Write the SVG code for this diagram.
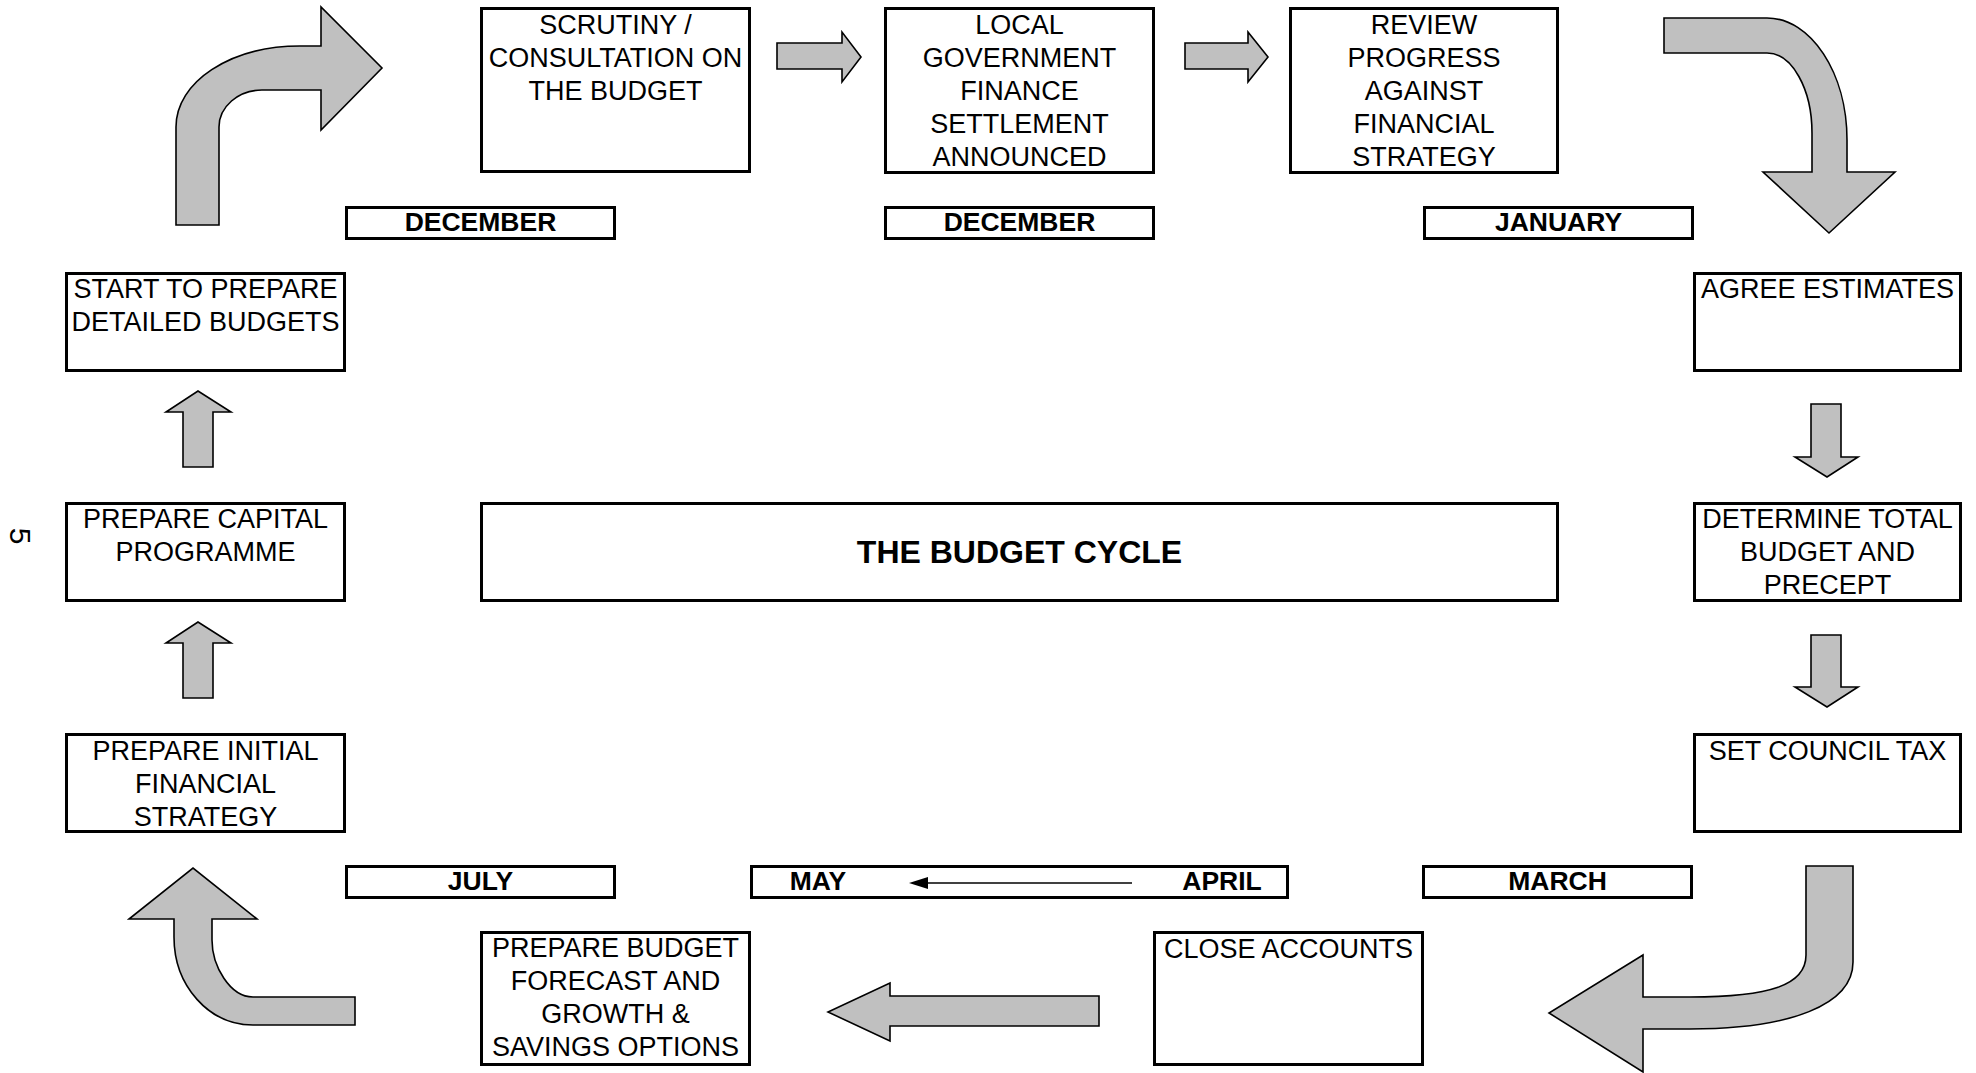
<svg xmlns="http://www.w3.org/2000/svg" width="1976" height="1073" viewBox="0 0 1976 1073">
<style>
.bg{fill:#ffffff}
.box{fill:#ffffff;stroke:#000000;stroke-width:3}
.t{font-family:"Liberation Sans",Arial,sans-serif;font-size:27px;fill:#000000;text-anchor:middle}
.m{font-family:"Liberation Sans",Arial,sans-serif;font-size:26.5px;font-weight:bold;fill:#000000;text-anchor:middle}
.title{font-family:"Liberation Sans",Arial,sans-serif;font-size:32px;font-weight:bold;fill:#000000;text-anchor:middle}
.arr{fill:#c0c0c0;stroke:#000000;stroke-width:1.6;stroke-linejoin:miter}
</style>
<rect class="bg" x="0" y="0" width="1976" height="1073"/>

<g id="connectors">
  <path class="arr" d="M176,225 L176,127 C176,82 230,46 300,46 L321,46 L321,7 L382,68 L321,130 L321,90 L262,90 C238,90 219,107 219,127 L219,225 Z"/>
  <path class="arr" d="M777,43 L842,43 L842,32 L861,57 L842,82 L842,69 L777,69 Z"/>
  <path class="arr" d="M1185,43 L1248,43 L1248,32 L1268,57 L1248,82 L1248,69 L1185,69 Z"/>
  <path class="arr" d="M1664,18 L1767,18 C1811,18 1847,73 1847,140 L1847,172 L1895,172 L1829,233 L1763,172 L1812,172 L1812,133 C1812,89 1792,53 1767,53 L1664,53 Z"/>
  <path class="arr" d="M1811,404 L1841,404 L1841,457 L1858,457 L1827,477 L1795,457 L1811,457 Z"/>
  <path class="arr" d="M1811,635 L1841,635 L1841,687 L1858,687 L1827,707 L1795,687 L1811,687 Z"/>
  <path class="arr" d="M1806,866 L1853,866 L1853,962 C1853,1005 1790,1029 1690,1029 L1643,1029 L1643,1072 L1549,1013 L1643,955 L1643,997 L1690,997 C1770,997 1806,985 1806,955 Z"/>
  <path class="arr" d="M1099,996 L890,996 L890,983 L828,1012 L890,1041 L890,1026 L1099,1026 Z"/>
  <path class="arr" d="M355,997 L253,997 C230,997 212,966 212,940 L212,919 L257,919 L193,868 L129,919 L174,919 L174,937 C174,986 209,1025 253,1025 L355,1025 Z"/>
  <path class="arr" d="M183,698 L183,643 L166,643 L198,622 L231,643 L213,643 L213,698 Z"/>
  <path class="arr" d="M183,467 L183,412 L166,412 L198,391 L231,412 L213,412 L213,467 Z"/>
</g>

<g id="scrutiny">
  <rect class="box" x="481.5" y="8.5" width="268" height="163"/>
  <text class="t" x="615.5" y="34">SCRUTINY /</text>
  <text class="t" x="615.5" y="67">CONSULTATION ON</text>
  <text class="t" x="615.5" y="100">THE BUDGET</text>
</g>
<g id="local-gov">
  <rect class="box" x="885.5" y="8.5" width="268" height="164"/>
  <text class="t" x="1019.5" y="34">LOCAL</text>
  <text class="t" x="1019.5" y="67">GOVERNMENT</text>
  <text class="t" x="1019.5" y="100">FINANCE</text>
  <text class="t" x="1019.5" y="133">SETTLEMENT</text>
  <text class="t" x="1019.5" y="166">ANNOUNCED</text>
</g>
<g id="review">
  <rect class="box" x="1290.5" y="8.5" width="267" height="164"/>
  <text class="t" x="1424" y="34">REVIEW</text>
  <text class="t" x="1424" y="67">PROGRESS</text>
  <text class="t" x="1424" y="100">AGAINST</text>
  <text class="t" x="1424" y="133">FINANCIAL</text>
  <text class="t" x="1424" y="166">STRATEGY</text>
</g>

<g id="month-dec1">
  <rect class="box" x="346.5" y="207.5" width="268" height="31"/>
  <text class="m" x="480.5" y="231">DECEMBER</text>
</g>
<g id="month-dec2">
  <rect class="box" x="885.5" y="207.5" width="268" height="31"/>
  <text class="m" x="1019.5" y="231">DECEMBER</text>
</g>
<g id="month-jan">
  <rect class="box" x="1424.5" y="207.5" width="268" height="31"/>
  <text class="m" x="1558.5" y="231">JANUARY</text>
</g>

<g id="start-detailed">
  <rect class="box" x="66.5" y="273.5" width="278" height="97"/>
  <text class="t" x="205.5" y="298">START TO PREPARE</text>
  <text class="t" x="205.5" y="331">DETAILED BUDGETS</text>
</g>
<g id="agree-estimates">
  <rect class="box" x="1694.5" y="273.5" width="266" height="97"/>
  <text class="t" x="1827.5" y="298">AGREE ESTIMATES</text>
</g>

<g id="capital">
  <rect class="box" x="66.5" y="503.5" width="278" height="97"/>
  <text class="t" x="205.5" y="528">PREPARE CAPITAL</text>
  <text class="t" x="205.5" y="561">PROGRAMME</text>
</g>
<g id="budget-cycle">
  <rect class="box" x="481.5" y="503.5" width="1076" height="97"/>
  <text class="title" x="1019.5" y="563">THE BUDGET CYCLE</text>
</g>
<g id="determine">
  <rect class="box" x="1694.5" y="503.5" width="266" height="97"/>
  <text class="t" x="1827.5" y="528">DETERMINE TOTAL</text>
  <text class="t" x="1827.5" y="561">BUDGET AND</text>
  <text class="t" x="1827.5" y="594">PRECEPT</text>
</g>

<g id="initial">
  <rect class="box" x="66.5" y="734.5" width="278" height="97"/>
  <text class="t" x="205.5" y="760">PREPARE INITIAL</text>
  <text class="t" x="205.5" y="793">FINANCIAL</text>
  <text class="t" x="205.5" y="826">STRATEGY</text>
</g>
<g id="set-council-tax">
  <rect class="box" x="1694.5" y="734.5" width="266" height="97"/>
  <text class="t" x="1827.5" y="760">SET COUNCIL TAX</text>
</g>

<g id="month-july">
  <rect class="box" x="346.5" y="866.5" width="268" height="31"/>
  <text class="m" x="480.5" y="890">JULY</text>
</g>
<g id="month-may-april">
  <rect class="box" x="751.5" y="866.5" width="536" height="31"/>
  <text class="m" x="818" y="890">MAY</text>
  <text class="m" x="1222" y="890">APRIL</text>
  <line x1="1132" y1="883" x2="924" y2="883" stroke="#000000" stroke-width="1.6"/>
  <path d="M909,883 L928,877 L928,889 Z" fill="#000000"/>
</g>
<g id="month-march">
  <rect class="box" x="1423.5" y="866.5" width="268" height="31"/>
  <text class="m" x="1557.5" y="890">MARCH</text>
</g>

<g id="prepare-budget">
  <rect class="box" x="481.5" y="932.5" width="268" height="132"/>
  <text class="t" x="615.5" y="957">PREPARE BUDGET</text>
  <text class="t" x="615.5" y="990">FORECAST AND</text>
  <text class="t" x="615.5" y="1023">GROWTH &amp;</text>
  <text class="t" x="615.5" y="1056">SAVINGS OPTIONS</text>
</g>
<g id="close-accounts">
  <rect class="box" x="1154.5" y="932.5" width="268" height="132"/>
  <text class="t" x="1288.5" y="958">CLOSE ACCOUNTS</text>
</g>

<text transform="rotate(90 10 536)" x="10" y="536" font-family="'Liberation Sans',Arial,sans-serif" font-size="30" text-anchor="middle" fill="#000000">5</text>
</svg>
